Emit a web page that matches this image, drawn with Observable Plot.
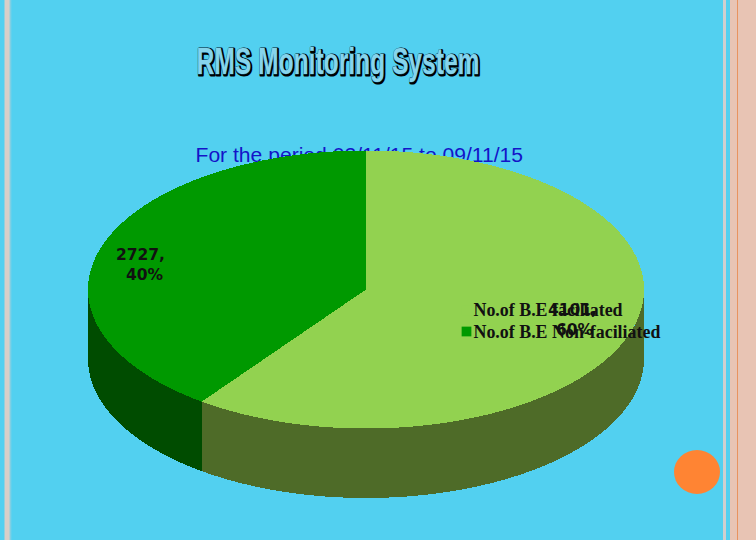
<!DOCTYPE html>
<html>
<head>
<meta charset="utf-8">
<script src="https://cdn.jsdelivr.net/npm/d3@7"></script>
<script src="https://cdn.jsdelivr.net/npm/@observablehq/plot@0.6"></script>
<style>
html,body{margin:0;padding:0;background:#52d0f0;}
#page{position:relative;width:756px;height:540px;overflow:hidden;
background:linear-gradient(to right,#52d0f0 0,#52d0f0 4px,#d8cfc8 5px,#d8cfc8 9px,#8fcfe0 10px,#52d0f0 12px,#52d0f0 723px,#cfcfcf 723px,#cfcfcf 726px,#52d0f0 726px,#52d0f0 730px,#e8c4b4 730px,#e8c4b4 737px,#e8935f 737px,#e8935f 738px,#e8c4b4 738px,#e8c4b4 756px);}
#sun{position:absolute;left:674px;top:450px;width:46px;height:44px;border-radius:50%;background:#ff8433;}
svg{position:absolute;left:0;top:0;background:transparent!important;}
</style>
</head>
<body>
<div id="page"><div id="sun"></div></div>
<script>
const categories = ["No.of B.E faciliated", "No.of B.E Non-faciliated"];
const values = [4101, 2727];
const percents = ["60%", "40%"];
const topColors = ["#92d250", "#009900"];
const sideColors = ["#4e6b28", "#004c00"];
const titleText = "RMS Monitoring System";
const subtitleText = "For the period 02/11/15 to 09/11/15";
const depth = 0.5;

const arcs = d3.pie().sort(null).startAngle(0).endAngle(2 * Math.PI)(values);
const rad = Math.PI / 180;
const pt = (a, drop = 0) => ({x: Math.sin(a), y: Math.cos(a) - drop});
const range = (a0, a1) => {
  const n = Math.max(2, Math.ceil((a1 - a0) / rad));
  return d3.range(n + 1).map(i => a0 + (a1 - a0) * i / n);
};
const topPoly = [], sidePoly = [];
arcs.forEach((arc, i) => {
  topPoly.push({k: i, x: 0, y: 0});
  range(arc.startAngle, arc.endAngle).forEach(a => topPoly.push({k: i, ...pt(a)}));
  const a0 = Math.max(arc.startAngle, Math.PI / 2);
  const a1 = Math.min(arc.endAngle, 3 * Math.PI / 2);
  if (a1 > a0) {
    const as = range(a0, a1);
    as.forEach(a => sidePoly.push({k: i, ...pt(a)}));
    as.slice().reverse().forEach(a => sidePoly.push({k: i, ...pt(a, depth)}));
  }
});

const place = {frameAnchor: "top-left", lineAnchor: "middle", text: d => d};
const legendFont = {...place, textAnchor: "start", dx: 473, fontFamily: "Liberation Serif", fontWeight: "bold", fontSize: 17.9, fill: "#111"};
const labelFont = {...place, textAnchor: "middle", fontFamily: "DejaVu Sans", fontWeight: "bold", fontSize: 15.5, fill: "#111"};
const titleFont = {...place, textAnchor: "start", dx: 196, dy: 62, fontFamily: "Liberation Sans", fontWeight: "bold", fontSize: 36, className: "wordart"};

const chart = Plot.plot({
  width: 756, height: 540,
  margin: 0,
  style: {background: "transparent", overflow: "visible"},
  x: {domain: [-1, 1], range: [87.5, 643.5], axis: null},
  y: {domain: [1, -1], range: [150, 428], axis: null},
  marks: [
    Plot.text([titleText], {...titleFont, fill: "#000", stroke: "#000", strokeWidth: 3.2, dx: 197, dy: 63}),
    Plot.text([titleText], {...titleFont, fill: "#86d4ec", stroke: "#1f86b8", strokeWidth: 0.7}),
    Plot.text([subtitleText], {...place, textAnchor: "start", dx: 195, dy: 155, fontFamily: "Liberation Sans", fontSize: 21.1, fill: "#1414c8"}),
    Plot.line(sidePoly, {x: "x", y: "y", z: "k", fill: d => sideColors[d.k], stroke: null, shapeRendering: "crispEdges"}),
    Plot.line(topPoly, {x: "x", y: "y", z: "k", fill: d => topColors[d.k], stroke: null, shapeRendering: "crispEdges"}),
    Plot.text([categories[0]], {...legendFont, dy: 310}),
    Plot.text([categories[1]], {...legendFont, dy: 332}),
    Plot.dot([categories[0]], {frameAnchor: "top-left", dx: 466, dy: 331 - 21, symbol: "square", r: 5.5, fill: topColors[0], stroke: null}),
    Plot.dot([categories[1]], {frameAnchor: "top-left", dx: 466, dy: 331, symbol: "square", r: 5.5, fill: topColors[1], stroke: null}),
    Plot.text([`${values[0]},`], {...labelFont, dx: 572, dy: 310}),
    Plot.text([percents[0]], {...labelFont, dx: 574, dy: 330}),
    Plot.text([`${values[1]},`], {...labelFont, dx: 140, dy: 255}),
    Plot.text([percents[1]], {...labelFont, dx: 144, dy: 275})
  ]
});
d3.select(chart).selectAll(".wordart text")
  .attr("textLength", 283)
  .attr("lengthAdjust", "spacingAndGlyphs");
document.getElementById("page").insertBefore(chart, document.getElementById("sun"));
</script>
</body>
</html>
